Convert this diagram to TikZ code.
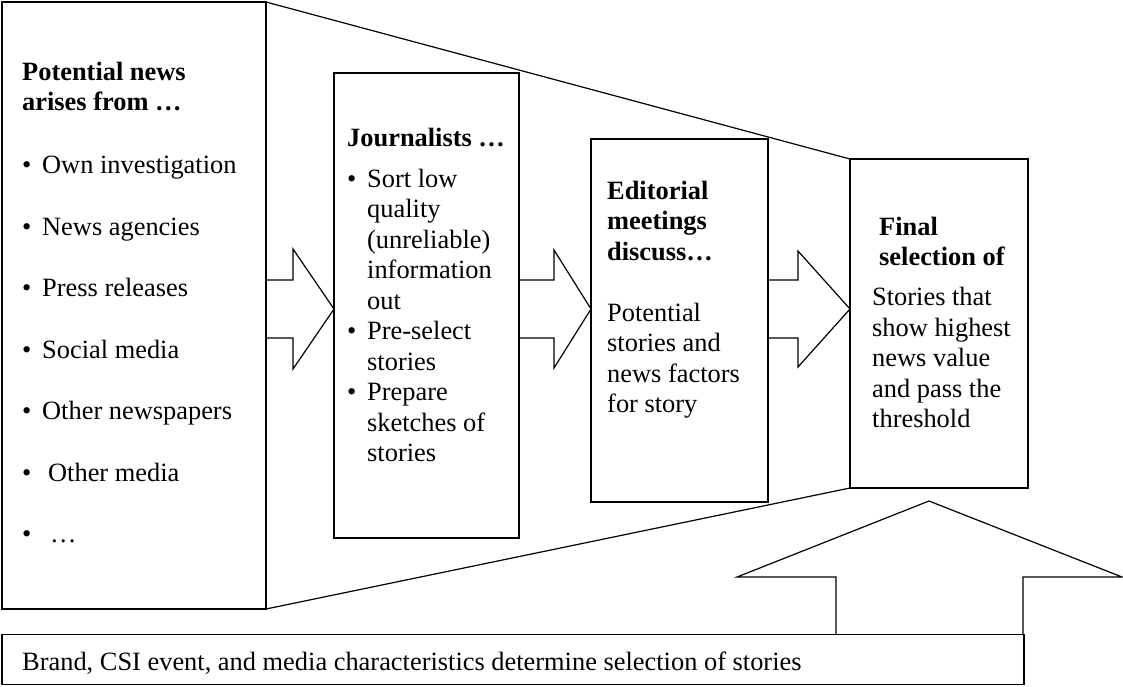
\documentclass[tikz,border=0pt]{standalone}
\usepackage{fontspec}
\setmainfont{Liberation Serif}
\tikzstyle{panel}=[draw, line width=1.2pt, inner sep=0pt, outer sep=0pt]
\tikzstyle{words}=[inner sep=0pt, anchor=base west, font=\fontsize{26.4}{30.5}\selectfont]
\tikzstyle{bigarrow}=[draw, line width=1.2pt, line join=miter]
\newcommand{\itm}{\makebox[20pt][l]{\textbullet}}
\newcommand{\cont}{\hspace*{20pt}}

\begin{document}
\begin{tikzpicture}[x=1pt,y=-1pt]
            \useasboundingbox (0,0) rectangle (1123,686);
            \node[panel, minimum width=264pt, minimum height=607pt] at (134,305.5) (src) {};
            \node[panel, minimum width=185pt, minimum height=465pt] at (426.5,305.5) (jour) {};
            \node[panel, minimum width=177pt, minimum height=363pt] at (679.5,320.5) (edit) {};
            \node[panel, minimum width=178pt, minimum height=329pt] at (939,323.5) (final) {};
            \node[panel, minimum width=1022pt, minimum height=50pt] at (513,659.5) (base) {};
            \draw[line width=1.2pt] (src.north east) -- (final.north west);
            \draw[line width=1.2pt] (src.south east) -- (final.south west);
            \node[words] at (22,80) (srctxt) {\parbox[t]{240pt}{\raggedright
                \textbf{Potential news}\\ \textbf{arises from …}\\[32.5pt]
                \itm Own investigation\\[31pt]
                \itm News agencies\\[31pt]
                \itm Press releases\\[31pt]
                \itm Social media\\[31pt]
                \itm Other newspapers\\[31pt]
                \itm\hspace*{6pt}Other media\\[31pt]
                \itm\hspace*{8pt}…}};
            \node[words] at (347,146) (jourtxt) {\parbox[t]{170pt}{\raggedright
                \textbf{Journalists …}\\[10.5pt]
                \itm Sort low\\ \cont quality\\ \cont (unreliable)\\ \cont information\\ \cont out\\
                \itm Pre-select\\ \cont stories\\
                \itm Prepare\\ \cont sketches of\\ \cont stories}};
            \node[words] at (607,199) (edittxt) {\parbox[t]{155pt}{\raggedright
                \textbf{Editorial}\\ \textbf{meetings}\\ \textbf{discuss…}\\[30.5pt]
                Potential\\ stories and\\ news factors\\ for story}};
            \node[words] at (872,235) (finaltxt) {\parbox[t]{150pt}{\raggedright
                \hspace*{7pt}\textbf{Final}\\ \hspace*{7pt}\textbf{selection of}\\[9.5pt]
                Stories that\\ show highest\\ news value\\ and pass the\\ threshold}};
            \node[words] at (22,670) (basetxt) {Brand, CSI event, and media characteristics determine selection of stories};
            \draw[bigarrow] (src.east |- 0,280) -- (293,280) -- (293,249) -- (jour.west |- 0,309)
                -- (293,369) -- (293,338) -- (src.east |- 0,338);
            \draw[bigarrow] (jour.east |- 0,280) -- (554,280) -- (554,250) -- (edit.west |- 0,309)
                -- (554,368) -- (554,338) -- (jour.east |- 0,338);
            \draw[bigarrow] (edit.east |- 0,280) -- (798,280) -- (798,251) -- (final.west |- 0,309)
                -- (798,367) -- (798,338) -- (edit.east |- 0,338);
            \coordinate (tip) at (929,501);
            \draw[bigarrow] (base.north -| 836,0) -- (836,577) -- (737,577) -- (tip)
                -- (1122,577) -- (1023,577) -- (base.north -| 1023,0);
        \end{tikzpicture}
\end{document}
